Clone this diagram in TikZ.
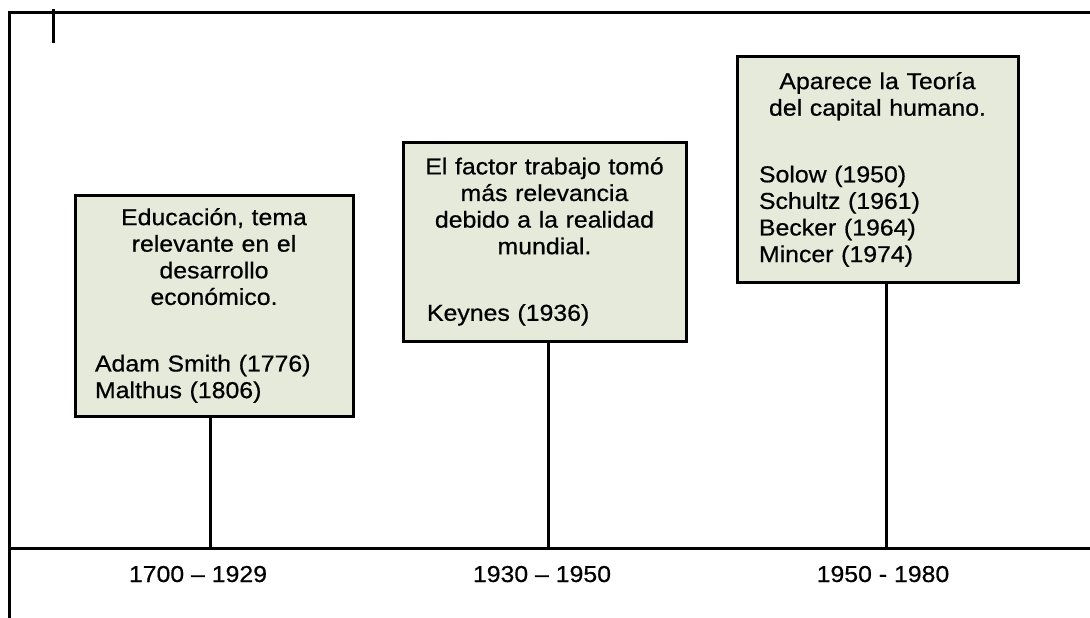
\documentclass[tikz,border=0pt]{standalone}
\usepackage{fontspec}
\setmainfont{Liberation Sans}[FakeStretch=1.08, FakeBold=0.6]
\usetikzlibrary{calc}
\definecolor{cajaverde}{HTML}{E5EADB}

\begin{document}
\begin{tikzpicture}[x=1pt, y=-1pt,
  caja/.style={draw, line width=3pt, fill=cajaverde, inner xsep=14pt, inner ysep=0pt,
    font=\fontsize{23}{26.6}\selectfont},
  periodo/.style={anchor=base, font=\fontsize{23}{26}\selectfont},
  linea/.style={line width=3pt}]
  \useasboundingbox (0,0) rectangle (1090,618);

  \node [caja, minimum width=278pt, minimum height=221pt, text width=250pt] (educacion) at (214,305.5)
    {{\centering Educación, tema\\ relevante en el\\ desarrollo\\ económico.\par}\vspace{40pt}
     \raggedright\leftskip=6pt Adam Smith (1776)\\ Malthus (1806)\par};
  \node [caja, minimum width=283pt, minimum height=199pt, text width=255pt] (trabajo) at (544.5,241.5)
    {{\centering El factor trabajo tomó\\ más relevancia\\ debido a la realidad\\ mundial.\par}\vspace{40pt}
     \raggedright\leftskip=10pt Keynes (1936)\par};
  \node [caja, minimum width=281pt, minimum height=225pt, text width=253pt] (capital) at (877.5,169.5)
    {{\centering Aparece la Teoría\\ del capital humano.\par}\vspace{40pt}
     \raggedright\leftskip=8pt Solow (1950)\\ Schultz (1961)\\ Becker (1964)\\ Mincer (1974)\par};

  \coordinate (esquina) at (9,13);
  \coordinate (ejeizq) at (9,548);
  \coordinate (ejeder) at (1090,548);
  \coordinate (t1) at (210,548);
  \coordinate (t2) at (548,548);
  \coordinate (t3) at (886,548);

  \draw [linea] (9,618) -- (esquina) -- (1090,13);
  \draw [linea] (53,9) -- (53,43);
  \draw [linea] (ejeizq) -- (ejeder);
  \draw [linea] (educacion.south -| t1) -- (t1);
  \draw [linea] (trabajo.south -| t2) -- (t2);
  \draw [linea] (capital.south -| t3) -- (t3);

  \node [periodo] (p1) at (198,582) {1700 – 1929};
  \node [periodo] (p2) at (542,582) {1930 – 1950};
  \node [periodo] (p3) at (883,582) {1950 - 1980};
\end{tikzpicture}
\end{document}
